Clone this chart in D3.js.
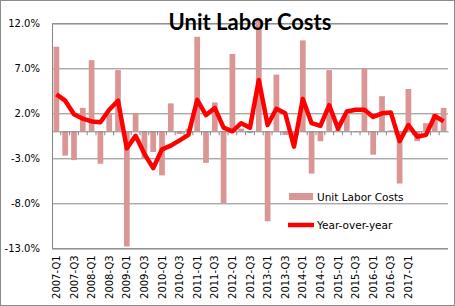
<!DOCTYPE html>
<html>
<head>
<meta charset="utf-8">
<script src="https://cdn.jsdelivr.net/npm/d3@7"></script>
<style>
  body { margin: 0; background: #fff; }
  svg { display: block; }
</style>
</head>
<body>
<script>
const width = 455,
    height = 306;

const quarters = [
    "2007-Q1", "2007-Q2", "2007-Q3", "2007-Q4", "2008-Q1", "2008-Q2", "2008-Q3", "2008-Q4",
    "2009-Q1", "2009-Q2", "2009-Q3", "2009-Q4", "2010-Q1", "2010-Q2", "2010-Q3", "2010-Q4",
    "2011-Q1", "2011-Q2", "2011-Q3", "2011-Q4", "2012-Q1", "2012-Q2", "2012-Q3", "2012-Q4",
    "2013-Q1", "2013-Q2", "2013-Q3", "2013-Q4", "2014-Q1", "2014-Q2", "2014-Q3", "2014-Q4",
    "2015-Q1", "2015-Q2", "2015-Q3", "2015-Q4", "2016-Q1", "2016-Q2", "2016-Q3", "2016-Q4",
    "2017-Q1", "2017-Q2", "2017-Q3", "2017-Q4", "2018-Q1"
];
// quarterly change, annualized (bars)
const unitLaborCosts = [
    9.4, -2.7, -3.2, 2.6, 7.9, -3.6, 2.0, 6.8,
    -12.8, 2.0, -3.0, -2.3, -4.9, 3.1, -0.3, 0.3,
    10.5, -3.5, 3.2, -8.0, 8.6, 0.3, -0.2, 12.4,
    -10.0, 6.3, -0.4, -0.5, 10.1, -4.7, -1.1, 6.8,
    0.2, 1.8, -0.1, 7.0, -2.6, 3.9, 0.1, -5.8,
    4.7, -1.1, 0.9, 2.0, 2.6
];
// year-over-year change (line)
const yearOverYear = [
    4.1, 3.4, 1.9, 1.4, 1.1, 1.0, 2.4, 3.4,
    -1.9, -0.5, -2.5, -4.1, -2.0, -1.6, -1.0, -0.4,
    3.5, 1.8, 2.6, 0.4, 0.0, 0.9, 0.4, 5.7,
    0.7, 2.5, 2.0, -1.7, 3.6, 0.9, 0.6, 2.9,
    0.3, 2.2, 2.4, 2.4, 1.6, 2.0, 2.1, -1.1,
    0.7, -0.6, -0.4, 1.7, 1.1
];
const yTicks = [12, 7, 2, -3, -8, -13];
const labelEvery = 2, lastLabel = "2017-Q1";

const plot = {left: 52, right: 448, top: 23.3, bottom: 248.3};

const x = d3.scaleBand().domain(quarters).range([plot.left, plot.right]).paddingInner(0.35).paddingOuter(0.175);
const y = d3.scaleLinear().domain([-13, 12]).range([plot.bottom, plot.top]);

const svg = d3.select("body").append("svg")
    .attr("width", width)
    .attr("height", height);

// chart border
svg.append("rect")
    .attr("x", 0.5).attr("y", 0.5)
    .attr("width", width - 1).attr("height", height - 1)
    .attr("fill", "#fff").attr("stroke", "#8c8c8c");

// gridlines + y labels
const yAxis = d3.axisLeft(y).tickValues(yTicks).tickSize(-(plot.right - plot.left))
    .tickFormat(d => d.toFixed(1) + "%").tickPadding(12);
svg.append("g")
    .attr("transform", `translate(${plot.left},0)`)
    .call(yAxis)
    .call(g => g.select(".domain").attr("stroke", "#868686"))
    .call(g => g.selectAll(".tick line").attr("stroke", "#868686"))
    .call(g => g.selectAll("text").attr("font-family", "DejaVu Sans").attr("font-size", 10).attr("fill", "#000"));

// bars
svg.append("g").selectAll("rect")
    .data(unitLaborCosts)
    .join("rect")
    .attr("x", (d, i) => x(quarters[i]))
    .attr("width", x.bandwidth())
    .attr("y", d => y(Math.max(0, d)))
    .attr("height", d => Math.abs(y(d) - y(0)))
    .attr("fill", "#d99694");

// category axis at zero
const step = x.step();
const xAxis = d3.axisBottom(x).tickSize(0).tickFormat("");
svg.append("g")
    .attr("transform", `translate(0,${y(0)})`)
    .call(xAxis)
    .call(g => g.select(".domain").attr("stroke", "#868686"));
svg.append("g").selectAll("line")
    .data(d3.range(1, quarters.length))
    .join("line")
    .attr("x1", i => plot.left + i * step)
    .attr("x2", i => plot.left + i * step)
    .attr("y1", y(0))
    .attr("y2", y(0) + 4)
    .attr("stroke", "#868686");

// rotated labels, below plot
const shown = quarters.filter((q, i) => i % labelEvery === 0 && i <= quarters.indexOf(lastLabel));
svg.append("g").selectAll("text")
    .data(shown)
    .join("text")
    .attr("transform", d => `translate(${x(d) + x.bandwidth() / 2 + 3.5},${plot.bottom + 7}) rotate(-90)`)
    .attr("text-anchor", "end")
    .attr("font-family", "DejaVu Sans")
    .attr("font-size", 10)
    .text(d => d);

// yoy line
const line = d3.line()
    .x((d, i) => x(quarters[i]) + x.bandwidth() / 2)
    .y(d => y(d));
svg.append("path")
    .datum(yearOverYear)
    .attr("d", line)
    .attr("fill", "none")
    .attr("stroke", "#ff0000")
    .attr("stroke-width", 4.5)
    .attr("stroke-linejoin", "round");

// title
svg.append("text")
    .attr("x", 250).attr("y", 30)
    .attr("text-anchor", "middle")
    .attr("font-family", "Lato")
    .attr("font-weight", "bold")
    .attr("font-size", 22)
    .text("Unit Labor Costs");

// legend
const legend = svg.append("g").attr("font-family", "DejaVu Sans").attr("font-size", 10.5);
legend.append("rect").attr("x", 289).attr("y", 193).attr("width", 24).attr("height", 7).attr("fill", "#d99694");
legend.append("text").attr("x", 317).attr("y", 201).text("Unit Labor Costs");
legend.append("line").attr("x1", 288).attr("x2", 314).attr("y1", 225).attr("y2", 225)
    .attr("stroke", "#ff0000").attr("stroke-width", 4.5);
legend.append("text").attr("x", 317).attr("y", 229).text("Year-over-year");
</script>
</body>
</html>
